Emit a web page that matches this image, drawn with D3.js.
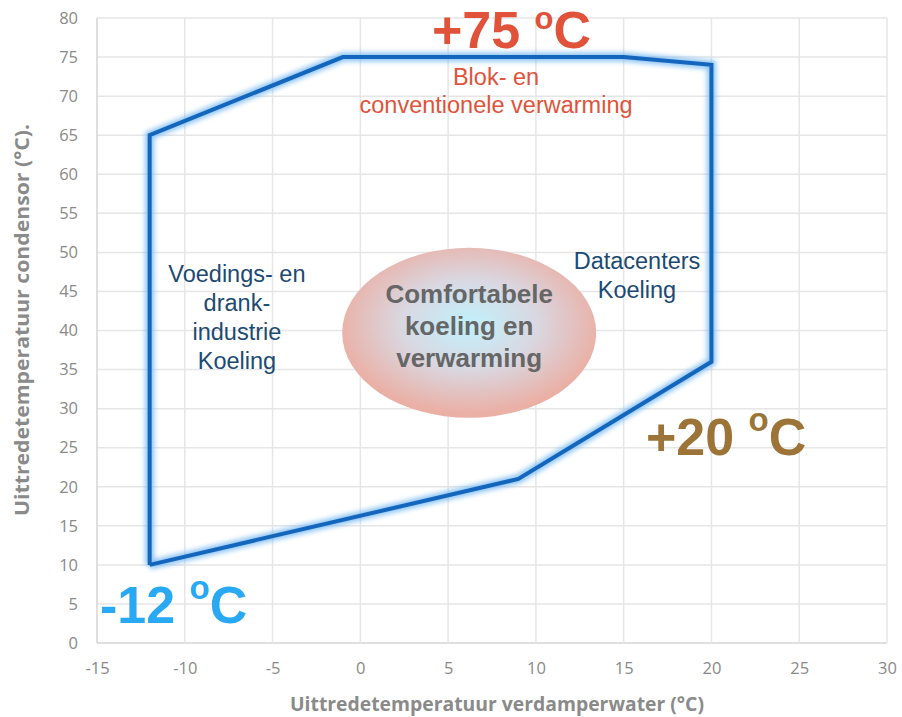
<!DOCTYPE html>
<html>
<head>
<meta charset="utf-8">
<script src="https://cdn.jsdelivr.net/npm/d3@7"></script>
<style>
  body { margin: 0; background: #fff; }
  svg text { font-family: "Liberation Sans", Arial, sans-serif; }
</style>
</head>
<body>
<div id="chart"></div>
<script>
// envelope of the heat pump (evaporator out, condenser out)
var envX = [-12, -12, -1, 15, 20, 20, 9, -12];
var envY = [10, 65, 75, 75, 74, 36, 21, 10];
var xTicks = [-15, -10, -5, 0, 5, 10, 15, 20, 25, 30];
var yTicks = [0, 5, 10, 15, 20, 25, 30, 35, 40, 45, 50, 55, 60, 65, 70, 75, 80];

var margin = {top: 18, right: 15, bottom: 74, left: 97},
    width = 902 - margin.left - margin.right,
    height = 717 - margin.top - margin.bottom;

var svg = d3.select("#chart").append("svg")
    .attr("width", 902).attr("height", 717);

var defs = svg.append("defs");
var grad = defs.append("radialGradient").attr("id", "blob")
    .attr("cx", "50%").attr("cy", "45%").attr("r", "52%");
grad.append("stop").attr("offset", "0%").attr("stop-color", "#c0f1fc");
grad.append("stop").attr("offset", "50%").attr("stop-color", "#d9d8e2");
grad.append("stop").attr("offset", "100%").attr("stop-color", "#eab0a6");
var glow = defs.append("filter").attr("id", "glow")
    .attr("x", "-10%").attr("y", "-10%").attr("width", "120%").attr("height", "120%");
glow.append("feGaussianBlur").attr("stdDeviation", 2.5);

var g = svg.append("g").attr("transform", "translate(" + margin.left + "," + margin.top + ")");

var x = d3.scaleLinear().domain([-15, 30]).range([0, width]);
var y = d3.scaleLinear().domain([0, 80]).range([height, 0]);

// grid
g.append("g").selectAll("line").data(yTicks).enter().append("line")
    .attr("x1", 0).attr("x2", width)
    .attr("y1", d => y(d)).attr("y2", d => y(d))
    .attr("stroke", d => d == 0 ? "#d4d4d4" : "#e6e6e6").attr("stroke-width", 1.5);
g.append("g").selectAll("line").data(xTicks).enter().append("line")
    .attr("y1", 0).attr("y2", height)
    .attr("x1", d => x(d)).attr("x2", d => x(d))
    .attr("stroke", d => d == -15 ? "#d4d4d4" : "#e6e6e6").attr("stroke-width", 1.5);

// axes (labels only)
var xAxis = g.append("g").attr("transform", "translate(0," + height + ")")
    .call(d3.axisBottom(x).tickValues(xTicks).tickFormat(d => String(d)).tickSize(0).tickPadding(19));
var yAxis = g.append("g")
    .call(d3.axisLeft(y).tickValues(yTicks).tickFormat(d => String(d)).tickSize(0).tickPadding(19));
[xAxis, yAxis].forEach(function(a) {
  a.select(".domain").remove();
  a.selectAll("text").attr("fill", "#8a8a8a").style("font-family", "'Open Sans', sans-serif").style("font-size", "16.5px");
});

g.append("text")
    .attr("x", width / 2 + 5).attr("y", height + 68)
    .attr("text-anchor", "middle").attr("fill", "#8a8a8a")
    .attr("textLength", 414).attr("lengthAdjust", "spacingAndGlyphs")
    .style("font-family", "'Open Sans', sans-serif").style("font-size", "19px").style("font-weight", "bold")
    .text("Uittredetemperatuur verdamperwater (°C)");
g.append("text")
    .attr("transform", "rotate(-90)")
    .attr("x", -(320 - margin.top)).attr("y", -68)
    .attr("text-anchor", "middle").attr("fill", "#8a8a8a")
    .attr("textLength", 392).attr("lengthAdjust", "spacingAndGlyphs")
    .style("font-family", "'Open Sans', sans-serif").style("font-size", "19px").style("font-weight", "bold")
    .text("Uittredetemperatuur condensor (°C).");

// envelope
var pts = envX.map((d, i) => [d, envY[i]]);
var line = d3.line().x(d => x(d[0])).y(d => y(d[1]));
g.append("path").attr("d", line(pts)).attr("fill", "none")
    .attr("stroke", "#6fb6f2").attr("stroke-width", 9).attr("filter", "url(#glow)").attr("opacity", 0.8);
g.append("path").attr("d", line(pts)).attr("fill", "none")
    .attr("stroke", "#1466bd").attr("stroke-width", 4).attr("stroke-linejoin", "miter");

// center ellipse
g.append("ellipse")
    .attr("cx", x(6.2)).attr("cy", y(39.7))
    .attr("rx", 127).attr("ry", 85)
    .attr("fill", "url(#blob)");
g.append("text").attr("text-anchor", "middle").attr("fill", "#666")
    .style("font-size", "26px").style("font-weight", "bold")
    .selectAll("tspan").data(["Comfortabele", "koeling en", "verwarming"]).enter().append("tspan")
    .attr("x", x(6.2)).attr("y", (d, i) => y(43.5) + i * 32)
    .text(d => d);

// region labels
function block(lines, cx, cy, color, size, lh) {
  g.append("text").attr("text-anchor", "middle").attr("fill", color).style("font-size", size + "px")
    .selectAll("tspan").data(lines).enter().append("tspan")
    .attr("x", cx).attr("y", (d, i) => cy + i * lh).text(d => d);
}
block(["Voedings- en", "drank-", "industrie", "Koeling"], x(-7.03), y(46.2), "#1c4a72", 23.5, 29);
block(["Datacenters", "Koeling"], x(15.76), y(47.9), "#1c4a72", 23.5, 29);
block(["Blok- en", "conventionele verwarming"], x(7.73), y(71.4), "#e0533a", 23.5, 28);

// big temperature labels
function big(txt, px, py, color, up, osize) {
  var t = g.append("text").attr("x", px).attr("y", py).attr("fill", color)
      .style("font-size", "52px").style("font-weight", "bold");
  t.append("tspan").text(txt + " ");
  t.append("tspan").attr("dy", -up).style("font-size", osize + "px").text("o");
  t.append("tspan").attr("dy", up).text("C");
}
big("+75", x(4.08), y(76.16), "#e0533a", 19, 31);
big("+20", x(16.27), y(24.06), "#9c7438", 24, 33);
big("-12", x(-14.83), y(2.56), "#29a8f4", 24, 33);
</script>
</body>
</html>
